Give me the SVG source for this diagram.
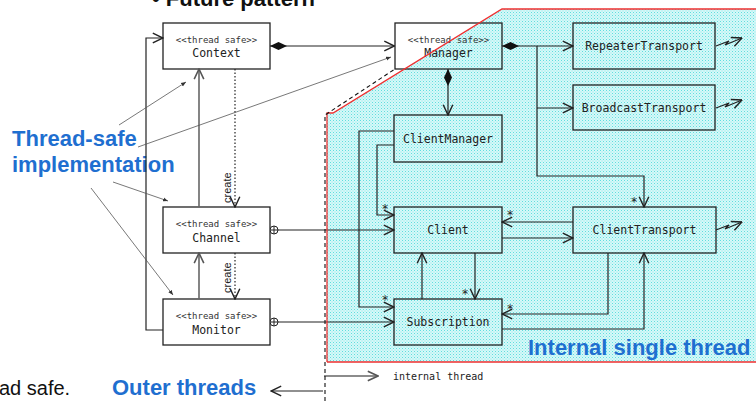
<svg xmlns="http://www.w3.org/2000/svg" width="756" height="401" viewBox="0 0 756 401">
<style>
.box{fill:none;stroke:#222;stroke-width:1.3}
.st{font-family:"DejaVu Sans Mono","Liberation Mono",monospace;font-size:9px;fill:#333;text-anchor:middle}
.nm{font-family:"DejaVu Sans Mono","Liberation Mono",monospace;font-size:11.5px;fill:#222;text-anchor:middle}
.ln{fill:none;stroke:#222;stroke-width:1.2}
.gr{fill:none;stroke:#666;stroke-width:1.6}
.dt{fill:none;stroke:#222;stroke-width:1.2;stroke-dasharray:1.5,2}
.an{fill:none;stroke:#555;stroke-width:0.8}
.star{font-family:"DejaVu Sans Mono",monospace;font-size:12px;fill:#222;text-anchor:middle}
.blue{font-family:"Liberation Sans",Arial,sans-serif;font-weight:bold;font-size:22px;fill:#1f6fd0}
.cr{font-family:"Liberation Sans",Arial,sans-serif;font-size:11px;fill:#222}
</style>
<defs>
<pattern id="dots" width="3" height="3" patternUnits="userSpaceOnUse">
<rect width="3" height="3" fill="#d6f8f8"/>
<rect width="1" height="1" fill="#5fdede"/>
<rect x="1.5" y="1.5" width="1" height="1" fill="#8be8e8"/>
</pattern>
<marker id="arr" markerUnits="userSpaceOnUse" markerWidth="12" markerHeight="12" viewBox="0 0 10 10" refX="9.5" refY="5" orient="auto"><path d="M1,1 L9.5,5 L1,9" fill="none" stroke="#222" stroke-width="1.2"/></marker>
<marker id="arrg" markerUnits="userSpaceOnUse" markerWidth="12" markerHeight="12" viewBox="0 0 10 10" refX="9.5" refY="5" orient="auto"><path d="M1,1 L9.5,5 L1,9" fill="none" stroke="#555" stroke-width="1.3"/></marker>
<marker id="sm" markerUnits="userSpaceOnUse" markerWidth="6" markerHeight="6" viewBox="0 0 6 6" refX="5" refY="3" orient="auto"><path d="M0,1 L5,3 L0,5 Z" fill="#333"/></marker>
<marker id="dia" markerUnits="userSpaceOnUse" markerWidth="18" markerHeight="10" viewBox="0 0 18 10" refX="0" refY="5" orient="auto"><path d="M0,5 L8.5,1 L17,5 L8.5,9 Z" fill="#111"/></marker>
<marker id="cp" markerUnits="userSpaceOnUse" markerWidth="10" markerHeight="10" viewBox="0 0 10 10" refX="0.5" refY="5" orient="auto"><circle cx="4.5" cy="5" r="4" fill="#fff" stroke="#222" stroke-width="1"/><path d="M0.5,5 H8.5 M4.5,1 V9" stroke="#222" stroke-width="1"/></marker>
</defs>
<rect width="756" height="401" fill="#fff"/>

<polygon id="internal-region" points="327,362 327,113 333,113 502,9 756,9 756,362" fill="url(#dots)"/>

<text x="152" y="6" font-family="Liberation Sans,Arial,sans-serif" font-weight="bold" font-size="22px" fill="#111">• Future pattern</text>
<text class="blue" x="12" y="146">Thread-safe</text>
<text class="blue" x="12" y="172">implementation</text>
<text class="blue" x="112" y="395">Outer threads</text>
<text class="blue" x="528" y="355">Internal single thread</text>
<text x="-1" y="395" font-family="Liberation Sans,Arial,sans-serif" font-size="20px" fill="#111">ad safe.</text>

<g id="context"><rect class="box" x="163" y="23" width="107" height="46"/><text class="st" x="216.5" y="43">&lt;&lt;thread safe&gt;&gt;</text><text class="nm" x="216.5" y="57">Context</text></g>
<g id="manager"><rect class="box" x="395" y="23" width="107" height="46"/><text class="st" x="448.5" y="43">&lt;&lt;thread safe&gt;&gt;</text><text class="nm" x="448.5" y="57">Manager</text></g>
<g id="channel"><rect class="box" x="163" y="207" width="107" height="46"/><text class="st" x="216.5" y="227">&lt;&lt;thread safe&gt;&gt;</text><text class="nm" x="216.5" y="242">Channel</text></g>
<g id="monitor"><rect class="box" x="163" y="299" width="107" height="46"/><text class="st" x="216.5" y="319">&lt;&lt;thread safe&gt;&gt;</text><text class="nm" x="216.5" y="334">Monitor</text></g>
<g id="repeater"><rect class="box" x="573" y="23" width="142" height="46"/><text class="nm" x="644" y="50">RepeaterTransport</text></g>
<g id="broadcast"><rect class="box" x="573" y="85" width="142" height="45"/><text class="nm" x="644" y="112">BroadcastTransport</text></g>
<g id="clientmanager"><rect class="box" x="394" y="115" width="108" height="47"/><text class="nm" x="448" y="142.5">ClientManager</text></g>
<g id="client"><rect class="box" x="394" y="207" width="108" height="46"/><text class="nm" x="448" y="234">Client</text></g>
<g id="clienttransport"><rect class="box" x="573" y="207" width="143" height="46"/><text class="nm" x="644.5" y="234">ClientTransport</text></g>
<g id="subscription"><rect class="box" x="394" y="299" width="108" height="46"/><text class="nm" x="448" y="326">Subscription</text></g>

<g id="connectors">
<path class="ln" d="M270,46 H394.5" marker-start="url(#dia)" marker-end="url(#arr)"/>
<path class="ln" d="M502,46 H573" marker-start="url(#dia)" marker-end="url(#arr)"/>
<path class="ln" d="M537,46 V176 H644 V207" marker-end="url(#arr)"/>
<path class="ln" d="M537,108 H573" marker-end="url(#arr)"/>
<path class="ln" d="M448,69 V115" marker-start="url(#dia)" marker-end="url(#arr)"/>
<path class="ln" d="M394,145 H377 V215 H394" marker-end="url(#arr)"/>
<path class="ln" d="M394,131 H359 V307 H394" marker-end="url(#arr)"/>
<path class="ln" d="M270,230 H394" marker-start="url(#cp)" marker-end="url(#arr)"/>
<path class="ln" d="M270,322 H394" marker-start="url(#cp)" marker-end="url(#arr)"/>
<path class="ln" d="M573,222 H502" marker-end="url(#arr)"/>
<path class="ln" d="M502,238 H573" marker-end="url(#arr)"/>
<path class="ln" d="M475,253 V299" marker-end="url(#arr)"/>
<path class="ln" d="M422,299 V253" marker-end="url(#arr)"/>
<path class="ln" d="M608,253 V314 H502" marker-end="url(#arr)"/>
<path class="ln" d="M502,329 H644 V253" marker-end="url(#arr)"/>
<path class="ln" d="M163,330 H146 V38 H163" marker-end="url(#arr)"/>
<path class="gr" d="M199,207 V69" marker-end="url(#arrg)"/>
<path class="gr" d="M199,299 V253" marker-end="url(#arrg)"/>
<path class="dt" d="M235,69 V207" marker-end="url(#arr)"/>
<path class="dt" d="M235,253 V299" marker-end="url(#arr)"/>
<text class="cr" transform="translate(231,203) rotate(-90)">create</text>
<text class="cr" transform="translate(231,293) rotate(-90)">create</text>
<path class="an" d="M119,125 L186,82" marker-end="url(#sm)"/>
<path class="an" d="M138,147 L391,57" marker-end="url(#sm)"/>
<path class="an" d="M113,182 L168,201" marker-end="url(#sm)"/>
<path class="an" d="M91,188 L173,295" marker-end="url(#sm)"/>
<path class="ln" d="M716,46 L729,41 L725,45 L742,38" marker-end="url(#arr)"/>
<path class="ln" d="M716,108 L729,103 L725,107 L742,100" marker-end="url(#arr)"/>
<path class="ln" d="M716,230 L729,225 L725,229 L742,222" marker-end="url(#arr)"/>
<text class="star" x="385" y="213">*</text>
<text class="star" x="634" y="206">*</text>
<text class="star" x="510" y="219">*</text>
<text class="star" x="385" y="304">*</text>
<text class="star" x="465" y="298">*</text>
<text class="star" x="510" y="313">*</text>
<path class="gr" d="M324,376 H378" marker-end="url(#arrg)"/>
<path class="ln" d="M323,391 H271" marker-end="url(#arr)"/>
<text x="393" y="380" font-family="DejaVu Sans Mono,monospace" font-size="10px" fill="#222">internal thread</text>
</g>

<path d="M327,362 V113 H333 L502,9 H756 M327,362 H756" fill="none" stroke="#f03030" stroke-width="1.3"/>
<path d="M325,401 V115 L395,69" fill="none" stroke="#111" stroke-width="1.1" stroke-dasharray="4,3"/>
</svg>
